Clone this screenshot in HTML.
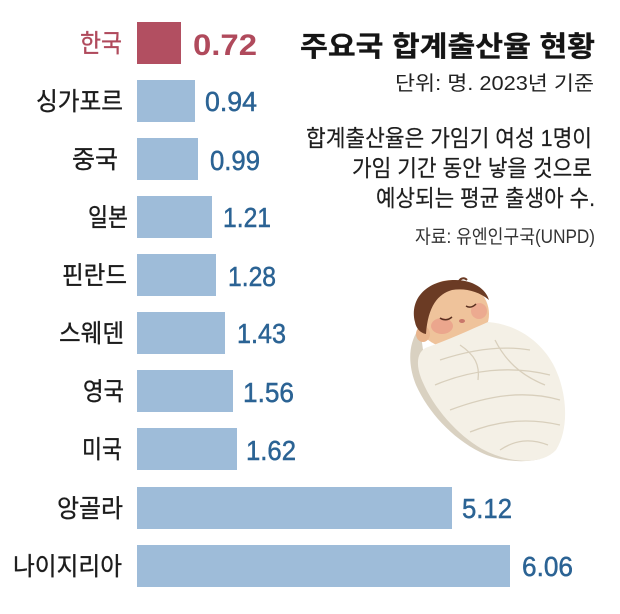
<!DOCTYPE html>
<html><head><meta charset="utf-8"><style>
html,body{margin:0;padding:0;background:#fff;}
svg{display:block;}
text{font-family:"Liberation Sans","Noto Sans CJK KR",sans-serif;}
</style></head><body>
<svg width="620" height="614" viewBox="0 0 620 614" xmlns="http://www.w3.org/2000/svg">
<rect width="620" height="614" fill="#fff"/>
<!-- bars -->
<rect x="137" y="22" width="44" height="42" fill="#b24f61"/>
<rect x="137" y="80" width="58" height="42" fill="#9ebcd9"/>
<rect x="137" y="138" width="61" height="42" fill="#9ebcd9"/>
<rect x="137" y="196" width="75" height="42" fill="#9ebcd9"/>
<rect x="137" y="254" width="79" height="42" fill="#9ebcd9"/>
<rect x="137" y="312" width="88" height="42" fill="#9ebcd9"/>
<rect x="137" y="370" width="96" height="42" fill="#9ebcd9"/>
<rect x="137" y="428" width="100" height="42" fill="#9ebcd9"/>
<rect x="137" y="487" width="315" height="42" fill="#9ebcd9"/>
<rect x="137" y="545" width="373" height="42" fill="#9ebcd9"/>
<!-- labels -->
<g font-size="25" fill="#1c1c1c" stroke="#1c1c1c" stroke-width="0.35">
<text x="80" y="52" textLength="42" lengthAdjust="spacingAndGlyphs" fill="#b04a5c" stroke="#b04a5c">한국</text>
<text x="36" y="110" textLength="87" lengthAdjust="spacingAndGlyphs">싱가포르</text>
<text x="72" y="168" textLength="46" lengthAdjust="spacingAndGlyphs">중국</text>
<text x="88" y="226" textLength="40" lengthAdjust="spacingAndGlyphs">일본</text>
<text x="62" y="284" textLength="65" lengthAdjust="spacingAndGlyphs">핀란드</text>
<text x="59" y="342" textLength="65" lengthAdjust="spacingAndGlyphs">스웨덴</text>
<text x="83" y="400" textLength="41" lengthAdjust="spacingAndGlyphs">영국</text>
<text x="82" y="458" textLength="40" lengthAdjust="spacingAndGlyphs">미국</text>
<text x="57" y="517" textLength="66" lengthAdjust="spacingAndGlyphs">앙골라</text>
<text x="13" y="575" textLength="109" lengthAdjust="spacingAndGlyphs">나이지리아</text>
</g>
<!-- values -->
<text x="193" y="55" font-size="30" font-weight="bold" fill="#b04a5c" textLength="64" lengthAdjust="spacingAndGlyphs">0.72</text>
<g font-size="28" fill="#2b6394" stroke="#2b6394" stroke-width="0.5">
<text x="205" y="111" textLength="52" lengthAdjust="spacingAndGlyphs">0.94</text>
<text x="210" y="170" textLength="50" lengthAdjust="spacingAndGlyphs">0.99</text>
<text x="223" y="227" textLength="48" lengthAdjust="spacingAndGlyphs">1.21</text>
<text x="228" y="286" textLength="48" lengthAdjust="spacingAndGlyphs">1.28</text>
<text x="237" y="343" textLength="49" lengthAdjust="spacingAndGlyphs">1.43</text>
<text x="243" y="402" textLength="51" lengthAdjust="spacingAndGlyphs">1.56</text>
<text x="246" y="460" textLength="50" lengthAdjust="spacingAndGlyphs">1.62</text>
<text x="462" y="518" textLength="50" lengthAdjust="spacingAndGlyphs">5.12</text>
<text x="522" y="576" textLength="51" lengthAdjust="spacingAndGlyphs">6.06</text>
</g>
<!-- title block -->
<text x="300" y="56" font-size="28" font-weight="bold" fill="#151515" stroke="#151515" stroke-width="0.3" textLength="295" lengthAdjust="spacingAndGlyphs">주요국 합계출산율 현황</text>
<text x="395" y="90" font-size="20" fill="#222" textLength="199" lengthAdjust="spacingAndGlyphs">단위: 명. 2023년 기준</text>
<g font-size="23" fill="#1e1e1e" stroke="#1e1e1e" stroke-width="0.2">
<text x="306" y="146" textLength="286" lengthAdjust="spacingAndGlyphs">합계출산율은 가임기 여성 1명이</text>
<text x="352" y="176" textLength="240" lengthAdjust="spacingAndGlyphs">가임 기간 동안 낳을 것으로</text>
<text x="376" y="206" textLength="219" lengthAdjust="spacingAndGlyphs">예상되는 평균 출생아 수.</text>
</g>
<text x="415" y="243" font-size="19" fill="#333" textLength="180" lengthAdjust="spacingAndGlyphs">자료: 유엔인구국(UNPD)</text>
<!-- baby illustration -->
<g>
<path d="M418 330 C408 345,408 365,416 385 C428 412,452 438,480 452 C500 462,525 463,540 459 C512 458,484 446,462 426 C442 406,428 380,424 356 C422 345,422 336,418 330 Z" fill="#d9d1c1"/>
<ellipse cx="452" cy="314" rx="37" ry="34" fill="#efc39b"/>
<ellipse cx="423" cy="334" rx="7" ry="8" fill="#e8b48c"/>
<path d="M415 322 C409 298,428 280,455 280 C473 280,486 289,489 300 C478 291,465 288,452 290 C438 294,428 306,426 334 C420 333,416 328,415 322 Z" fill="#6b3b24"/>
<path d="M458 283 C460 278,464 277,467 280" stroke="#6b3b24" stroke-width="2" fill="none"/>
<ellipse cx="442" cy="326" rx="11" ry="8" fill="#e99a88" opacity="0.7"/>
<ellipse cx="479" cy="311" rx="8" ry="8" fill="#e99a88" opacity="0.6"/>
<path d="M440 318 Q446 322,452 317" stroke="#5a3020" stroke-width="1.5" fill="none"/>
<path d="M466 306 Q471 309,476 304" stroke="#5a3020" stroke-width="1.5" fill="none"/>
<ellipse cx="462" cy="321" rx="3" ry="2" fill="#c9776a"/>
<path d="M428 347 C448 340,470 330,488 322 C515 324,540 340,553 364 C567 390,570 428,556 450 C541 466,508 463,482 449 C456 434,432 406,421 378 C415 362,418 350,428 347 Z" fill="#f4f0e6"/>
<g stroke="#d6ccb8" stroke-width="1.3" fill="none" opacity="0.9">
<path d="M440 360 C470 350,500 345,530 350"/>
<path d="M435 385 C470 370,510 365,550 375"/>
<path d="M450 410 C490 395,525 390,560 400"/>
<path d="M470 432 C500 420,530 418,560 425"/>
<path d="M495 340 C505 360,520 375,545 385"/>
<path d="M500 450 C515 440,530 438,548 445"/>
<path d="M460 345 C475 355,480 365,478 380"/>
</g>
</g>
</svg>
</body></html>
